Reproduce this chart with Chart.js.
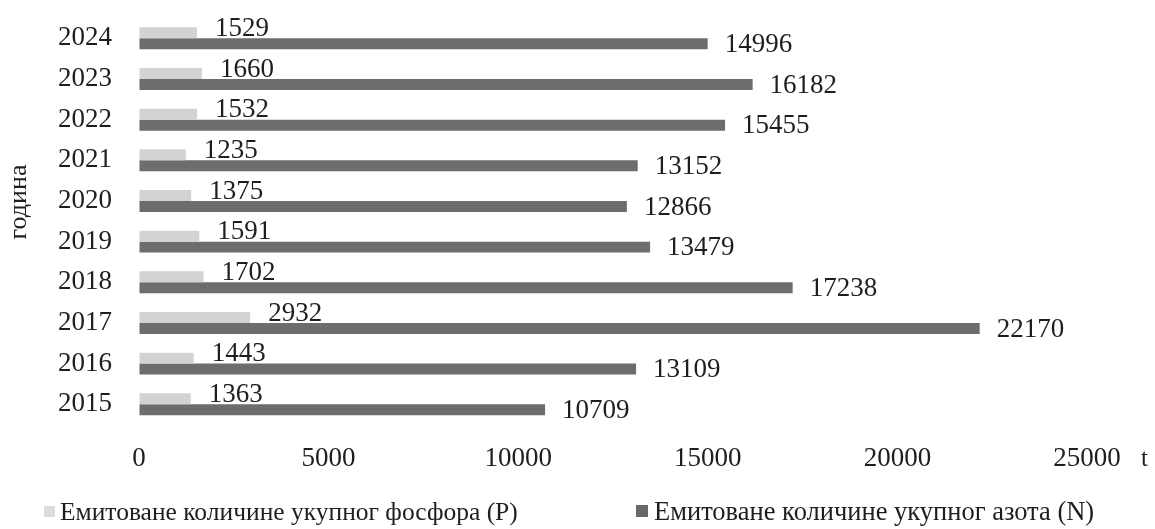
<!DOCTYPE html>
<html>
<head>
<meta charset="utf-8">
<script src="https://cdn.jsdelivr.net/npm/chart.js@4/dist/chart.umd.min.js"></script>
<style>
  html, body { margin: 0; padding: 0; background: #fff; }
  #wrap { width: 1155px; height: 529px; }
</style>
</head>
<body>
<div id="wrap"><canvas id="myChart"></canvas></div>
<script>
// years, top to bottom like in the picture
const years = ['2024', '2023', '2022', '2021', '2020', '2019', '2018', '2017', '2016', '2015'];
// emitted total phosphorus (P), t
const phosphorus = [1529, 1660, 1532, 1235, 1375, 1591, 1702, 2932, 1443, 1363];
// emitted total nitrogen (N), t
const nitrogen = [14996, 16182, 15455, 13152, 12866, 13479, 17238, 22170, 13109, 10709];
const xTicks = [0, 5000, 10000, 15000, 20000, 25000];
const seriesNames = ['Емитоване количине укупног фосфора (P)', 'Емитоване количине укупног азота (N)'];

const FONT = "'Liberation Serif', 'Times New Roman', serif";
const TEXT = '#1e1e1e';
const colP = '#d3d3d3';
const colN = '#6d6d6d';

// value labels, axis title, unit and legend
const extras = {
    id: 'extras',
    afterDatasetsDraw(chart) {
        const ctx = chart.ctx;
        ctx.save();
        ctx.fillStyle = TEXT;
        ctx.font = '27px ' + FONT;
        ctx.textAlign = 'left';
        ctx.textBaseline = 'middle';

        // labels for P sit a bit higher, N centred on bar
        chart.getDatasetMeta(0).data.forEach(function (bar, i) {
            ctx.fillText(phosphorus[i], bar.x + 18, bar.y - 4);
        });
        chart.getDatasetMeta(1).data.forEach(function (bar, i) {
            ctx.fillText(nitrogen[i], bar.x + 17, bar.y + 1);
        });

        // unit after the x axis
        ctx.font = '25px ' + FONT;
        ctx.fillText('t', 1141, 459);

        // y axis title
        ctx.save();
        ctx.translate(19, 202);
        ctx.rotate(-Math.PI / 2);
        ctx.textAlign = 'center';
        ctx.font = '26px ' + FONT;
        ctx.fillText('година', 0, 0);
        ctx.restore();

        // legend
        ctx.fillStyle = '#dcdcdc';
        ctx.fillRect(44, 506, 11, 11);
        ctx.fillStyle = TEXT;
        ctx.font = '25.5px ' + FONT;
        ctx.fillText(seriesNames[0], 60, 513);
        ctx.fillStyle = '#686868';
        ctx.fillRect(636, 505, 12, 12);
        ctx.fillStyle = TEXT;
        ctx.font = '26.5px ' + FONT;
        ctx.fillText(seriesNames[1], 654, 513);
        ctx.restore();
    }
};

var ctx = document.getElementById('myChart').getContext('2d');

var myChart = new Chart(ctx, {
    type: 'bar',
    data: {
        labels: years,
        datasets: [{
            label: seriesNames[0],
            data: phosphorus,
            backgroundColor: colP,
            borderWidth: 0
        },
        {
            label: seriesNames[1],
            data: nitrogen,
            backgroundColor: colN,
            borderWidth: 0
        }]
    },
    options: {
        indexAxis: 'y',
        responsive: true,
        maintainAspectRatio: false,
        animation: false,
        categoryPercentage: 0.54,
        barPercentage: 1,
        layout: {
            padding: { top: 18, right: 68, bottom: 54, left: 0 }
        },
        scales: {
            x: {
                min: 0,
                max: 25000,
                afterBuildTicks: function (axis) {
                    axis.ticks = xTicks.map(function (v) { return { value: v }; });
                },
                // invisible tick marks keep the labels away from the bars
                grid: { display: true, drawOnChartArea: false, color: 'rgba(0,0,0,0)', drawTicks: true, tickLength: 18 },
                border: { display: false },
                ticks: {
                    padding: 0,
                    color: TEXT,
                    font: { family: FONT, size: 27 },
                    callback: function (value) { return String(value); }
                }
            },
            y: {
                afterFit: function (axis) {
                    axis.width = 139;
                },
                grid: { display: true, drawOnChartArea: false, color: 'rgba(0,0,0,0)', drawTicks: true, tickLength: 27 },
                border: { display: false },
                ticks: {
                    padding: 0,
                    color: TEXT,
                    font: { family: FONT, size: 27 }
                }
            }
        },
        plugins: {
            legend: { display: false },
            tooltip: { enabled: false }
        }
    },
    plugins: [extras]
});
</script>
</body>
</html>
